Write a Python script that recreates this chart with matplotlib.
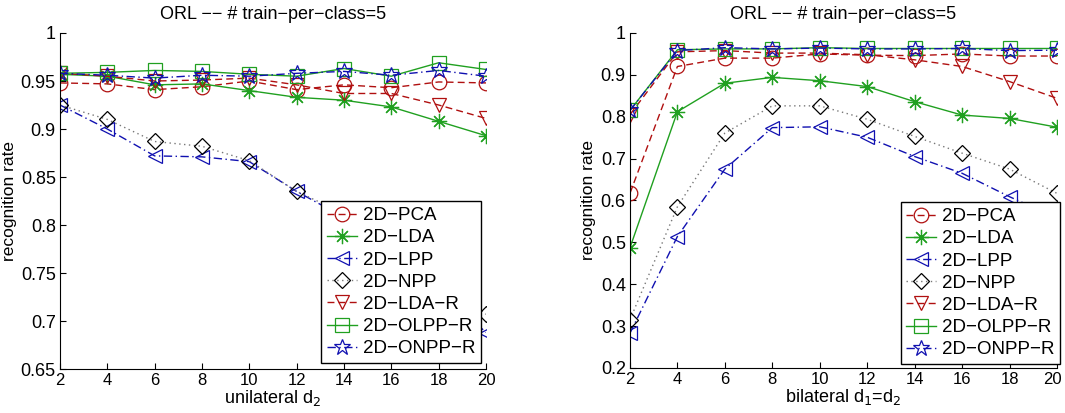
import numpy as np
import matplotlib
matplotlib.use('Agg')
import matplotlib.pyplot as plt
import matplotlib.transforms as mtransforms
from matplotlib import font_manager

# reduced dimension on x axis
dims = [2, 4, 6, 8, 10, 12, 14, 16, 18, 20]

# left panel: unilateral d2
uni_pca = [0.948, 0.947, 0.941, 0.944, 0.950, 0.941, 0.946, 0.943, 0.949, 0.948]
uni_lda = [0.957, 0.955, 0.946, 0.947, 0.940, 0.933, 0.930, 0.923, 0.908, 0.893]
uni_lpp = [0.925, 0.900, 0.872, 0.871, 0.866, 0.835, 0.808, 0.775, 0.735, 0.688]
uni_npp = [0.925, 0.910, 0.887, 0.882, 0.867, 0.835, 0.812, 0.782, 0.750, 0.707]
uni_lda_r = [0.958, 0.955, 0.950, 0.951, 0.953, 0.946, 0.937, 0.937, 0.925, 0.911]
uni_olpp_r = [0.958, 0.959, 0.961, 0.960, 0.957, 0.955, 0.963, 0.955, 0.969, 0.962]
uni_onpp_r = [0.958, 0.956, 0.953, 0.956, 0.955, 0.958, 0.960, 0.956, 0.961, 0.955]

# right panel: bilateral d1=d2
bi_pca = [0.617, 0.920, 0.940, 0.940, 0.950, 0.947, 0.946, 0.950, 0.945, 0.945]
bi_lda = [0.487, 0.812, 0.880, 0.894, 0.886, 0.872, 0.836, 0.804, 0.796, 0.775]
bi_lpp = [0.283, 0.514, 0.675, 0.774, 0.776, 0.751, 0.705, 0.665, 0.609, 0.558]
bi_npp = [0.315, 0.585, 0.761, 0.826, 0.826, 0.794, 0.753, 0.713, 0.675, 0.617]
bi_lda_r = [0.805, 0.955, 0.958, 0.952, 0.952, 0.948, 0.936, 0.920, 0.884, 0.844]
bi_olpp_r = [0.815, 0.960, 0.962, 0.962, 0.965, 0.963, 0.963, 0.963, 0.963, 0.963]
bi_onpp_r = [0.815, 0.958, 0.965, 0.962, 0.964, 0.962, 0.962, 0.963, 0.958, 0.959]

names = ['2D\u2212PCA', '2D\u2212LDA', '2D\u2212LPP', '2D\u2212NPP',
         '2D\u2212LDA\u2212R', '2D\u2212OLPP\u2212R', '2D\u2212ONPP\u2212R']

RED = '#b01010'
GREEN = '#20a020'
BLUE = '#1010b0'
BLACK = '#000000'

# (color, marker, marker size, dashes) per method
styles = [
    (RED, 'o', 10.5, (5, 3)),
    (GREEN, (8, 2, 0), 11, None),
    (BLUE, '<', 10.5, (6, 2.5, 1, 2.5)),
    (BLACK, 'D', 8.5, (1, 2.5)),
    (RED, 'v', 10.5, (5, 3)),
    (GREEN, 's', 9.5, None),
    (BLUE, '*', 12, (6, 2.5, 1, 2.5)),
]

base_font = ['Liberation Sans', 'DejaVu Sans']
plt.rcParams['font.family'] = base_font
xfont = font_manager.FontProperties(family=base_font, size=12)


def draw_panel(ax, series, xlabel, yticks, ylim):
    for vals, name, (col, mk, ms, dash) in zip(series, names, styles):
        line, = ax.plot(dims, vals, color=col, marker=mk, markersize=ms,
                        markerfacecolor='none', markeredgecolor=col,
                        markeredgewidth=0.9, linewidth=1.0, label=name)
        if dash is not None:
            line.set_dashes(dash)
        if col == BLACK:
            line.set_color('#777777')
            line.set_markeredgecolor(BLACK)
    ax.set_xlim(2, 20)
    ax.set_ylim(*ylim)
    ax.set_xticks(dims)
    ax.set_xticklabels([str(d) for d in dims], fontproperties=xfont)
    ax.set_yticks(yticks)
    ax.set_yticklabels([('%g' % t) for t in yticks], fontsize=13)
    ax.tick_params(direction='in', length=4, width=0.8, pad=3)
    ax.spines['top'].set_visible(False)
    ax.spines['right'].set_visible(False)
    ax.set_xlabel(xlabel, fontsize=13, labelpad=0)
    ax.set_ylabel('recognition rate', fontsize=12.5, labelpad=3)
    ax.set_title('ORL \u2212\u2212 # train\u2212per\u2212class=5', fontsize=13, pad=10)


fig = plt.figure(figsize=(10.65, 4.13), dpi=100)
ax1 = fig.add_axes([0.0563, 0.1065, 0.400, 0.8136])
ax2 = fig.add_axes([0.5915, 0.1090, 0.401, 0.8111])

draw_panel(ax1, [uni_pca, uni_lda, uni_lpp, uni_npp, uni_lda_r, uni_olpp_r, uni_onpp_r],
           'unilateral d$_2$', np.arange(0.65, 1.001, 0.05), (0.65, 1.0))
draw_panel(ax2, [bi_pca, bi_lda, bi_lpp, bi_npp, bi_lda_r, bi_olpp_r, bi_onpp_r],
           'bilateral d$_1$=d$_2$', np.arange(0.2, 1.001, 0.1), (0.2, 1.0))

# keep the last tick label of the right panel inside the figure
last = ax2.get_xticklabels()[-1]
last.set_transform(last.get_transform() +
                   mtransforms.ScaledTranslation(-3 / 72, 0, fig.dpi_scale_trans))

for ax, anchor in [(ax1, (0.988, 0.018)), (ax2, (1.007, 0.012))]:
    leg = ax.legend(loc='lower right', bbox_to_anchor=anchor, borderaxespad=0,
                    fontsize=13.5, fancybox=False, framealpha=1, edgecolor='black',
                    handlelength=1.6, handletextpad=0.3, labelspacing=0.27,
                    borderpad=0.3)
    leg.get_frame().set_linewidth(1.0)

fig.savefig('out.png', dpi=100)
